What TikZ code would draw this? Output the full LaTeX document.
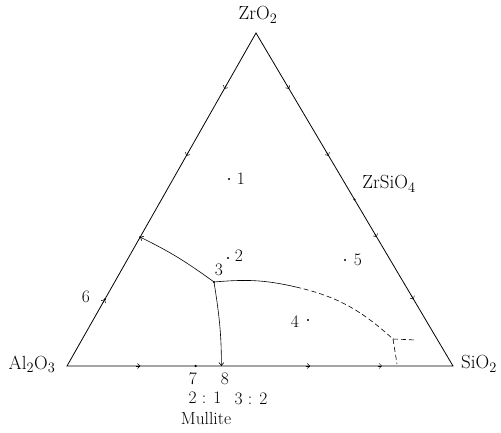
\documentclass[tikz,border=0pt]{standalone}
\usetikzlibrary{arrows.meta,calc}
\begin{document}
\begin{tikzpicture}[x=1pt,y=-1pt,
  font=\fontsize{17.5}{20}\selectfont,
  edge/.style={line width=0.8pt},
  curve/.style={line width=0.6pt},
  dashline/.style={line width=0.6pt, dash pattern=on 5pt off 3pt},
  mk/.style={line width=0.5pt, -{Straight Barb[length=2.5pt,width=5pt]}},
  pt/.style={circle, fill, inner sep=0pt, minimum size=2.4pt},
  lbl/.style={inner sep=1pt},
  fml/.style={inner sep=1pt, font=\fontsize{19}{22}\selectfont}]
\useasboundingbox (0,0) rectangle (501,433);
% vertices
\coordinate (Z) at (256,33);
\coordinate (A) at (67,366);
\coordinate (S) at (453,366);
\draw[edge] (Z) -- (A) -- (S) -- cycle;
% special points
\coordinate (E1) at ($(Z)!0.613!(A)$);
\coordinate (P6) at ($(Z)!0.80!(A)$);
\coordinate (ZS) at ($(Z)!0.5!(S)$);
\coordinate (P7) at ($(A)!0.3333!(S)$);
\coordinate (P8) at ($(A)!0.4!(S)$);
\coordinate (P3) at (214,282);
\coordinate (Pm) at (296,287);
\coordinate (Y) at (393,339);
\coordinate (Yr) at (416,340);
\coordinate (Yd) at (397,364);
% edge arrows
\draw[mk] ($(Z)!0.158!(A)$) -- ($(Z)!0.168!(A)$);
\draw[mk] ($(Z)!0.359!(A)$) -- ($(Z)!0.369!(A)$);
\draw[mk] ($(Z)!0.81!(A)$) -- ($(Z)!0.80!(A)$);
\draw[mk] ($(Z)!0.158!(S)$) -- ($(Z)!0.168!(S)$);
\draw[mk] ($(Z)!0.359!(S)$) -- ($(Z)!0.369!(S)$);
\draw[mk] ($(Z)!0.603!(S)$) -- ($(Z)!0.613!(S)$);
\draw[mk] ($(Z)!0.79!(S)$) -- ($(Z)!0.80!(S)$);
\draw[mk] ($(A)!0.18!(S)$) -- ($(A)!0.19!(S)$);
\draw[mk] ($(A)!0.62!(S)$) -- ($(A)!0.63!(S)$);
\draw[mk] ($(A)!0.806!(S)$) -- ($(A)!0.816!(S)$);
% boundary curves
\draw[curve, {Straight Barb[length=2.5pt,width=5pt]}-] (E1) to[out=-26,in=144] (P3);
\draw[curve, -{Straight Barb[length=3pt,width=5pt]}] (P3) to[out=-81,in=90] (P8);
\draw[curve] (P3) to[out=5,in=167] (Pm);
\draw[dashline] (Pm) to[out=-13,in=138] (Y);
\draw[dashline] (Y) -- (Yr);
\draw[dashline] (Y) -- (Yd);
% points
\node[pt] (d1) at (229,179) {};
\node[pt] (d2) at (228,258) {};
\node[pt] (d3) at (P3) {};
\node[pt] (d4) at (308,320) {};
\node[pt] (d5) at (345,260) {};
\node[pt] (d6) at (P6) {};
\node[pt] (d7) at (P7) {};
\node[pt] (dZS) at (ZS) {};
\node[pt] (dE1) at (E1) {};
% labels
\node[fml] (lZ) at (258,15) {ZrO$_2$};
\node[fml] (lA) at (32,364) {Al$_2$O$_3$};
\node[fml] (lS) at (479,364) {SiO$_2$};
\node[fml] (lZS) at (389,184) {ZrSiO$_4$};
\node[lbl] (n1) at (241,179) {1};
\node[lbl] (n2) at (239,256) {2};
\node[lbl] (n3) at (219,270) {3};
\node[lbl] (n4) at (295,322) {4};
\node[lbl] (n5) at (358,260) {5};
\node[lbl] (n6) at (86,297) {6};
\node[lbl] (n7) at (193,379) {7};
\node[lbl] (n8) at (225,379) {8};
\node[lbl] (r21) at (205,398) {2 : 1};
\node[lbl] (r32) at (251,399) {3 : 2};
\node[lbl] (mul) at (206,418) {Mullite};
\end{tikzpicture}
\end{document}
